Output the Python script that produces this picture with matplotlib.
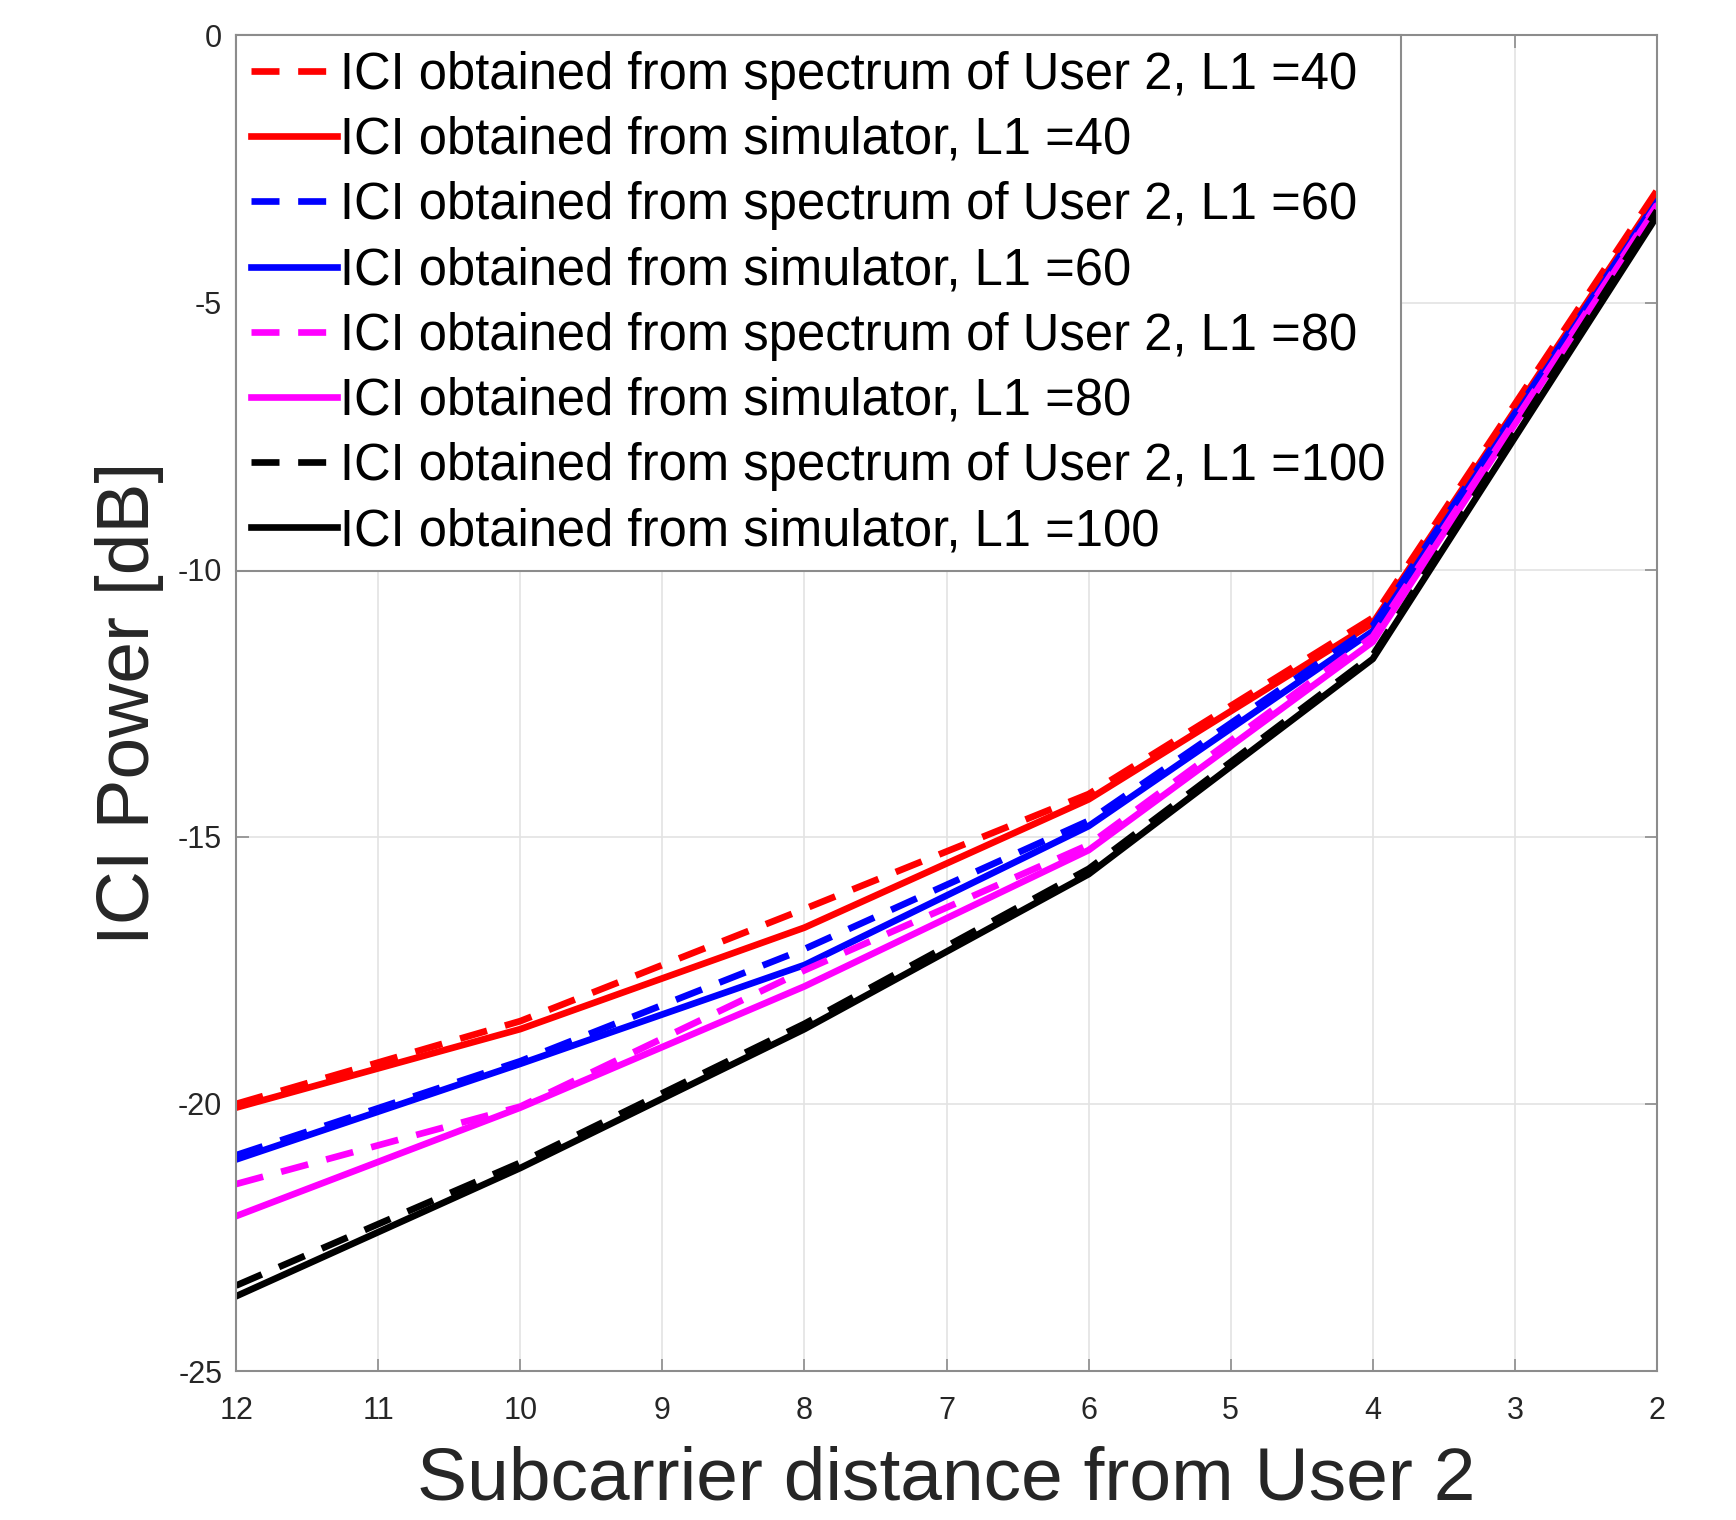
import numpy as np
import matplotlib
matplotlib.use("Agg")
import matplotlib.pyplot as plt

plt.rcParams["font.family"] = ["Liberation Sans", "DejaVu Sans"]
plt.rcParams["axes.unicode_minus"] = False

# -----------------------------
# Data
# -----------------------------
distance = [12, 10, 8, 6, 4, 2]

spec_40 = [-20.0, -18.45, -16.35, -14.2, -10.9, -2.9]
sim_40 = [-20.07, -18.6, -16.7, -14.3, -11.0, -3.03]
spec_60 = [-20.96, -19.2, -17.1, -14.7, -11.05, -3.1]
sim_60 = [-21.04, -19.25, -17.4, -14.8, -11.15, -3.12]
spec_80 = [-21.5, -20.05, -17.5, -15.15, -11.25, -3.17]
sim_80 = [-22.1, -20.07, -17.8, -15.25, -11.35, -3.2]
spec_100 = [-23.4, -21.1, -18.5, -15.6, -11.6, -3.28]
sim_100 = [-23.6, -21.2, -18.6, -15.7, -11.67, -3.38]

series = [
    (spec_40, "red", "--", "ICI obtained from spectrum of User 2, L1 =40"),
    (sim_40, "red", "-", "ICI obtained from simulator, L1 =40"),
    (spec_60, "blue", "--", "ICI obtained from spectrum of User 2, L1 =60"),
    (sim_60, "blue", "-", "ICI obtained from simulator, L1 =60"),
    (spec_80, "magenta", "--", "ICI obtained from spectrum of User 2, L1 =80"),
    (sim_80, "magenta", "-", "ICI obtained from simulator, L1 =80"),
    (spec_100, "black", "--", "ICI obtained from spectrum of User 2, L1 =100"),
    (sim_100, "black", "-", "ICI obtained from simulator, L1 =100"),
]

# -----------------------------
# Plot
# -----------------------------
fig = plt.figure(figsize=(17.36, 15.2), dpi=100)
ax = fig.add_axes([0.136, 0.098, 0.8185, 0.8787])

for vals, color, ls, label in series:
    if ls == "--":
        ax.plot(distance, vals, color=color, linestyle=(0, (4.2, 2.8)), lw=4.8, label=label)
    else:
        ax.plot(distance, vals, color=color, linestyle="-", lw=4.8, label=label)

ax.set_xlim(12, 2)
ax.set_ylim(-25, 0)
ax.set_xticks(range(12, 1, -1))
ax.set_yticks([-25, -20, -15, -10, -5, 0])
ax.grid(True, color="#e3e3e3", lw=1.2)
ax.set_axisbelow(True)

for s in ax.spines.values():
    s.set_color("#8c8c8c")
    s.set_linewidth(1.5)
ax.tick_params(direction="in", length=9, width=1.2, color="#8c8c8c",
               labelsize=22, labelcolor="#262626", top=True, right=True)
ax.tick_params(axis="x", pad=18)
ax.tick_params(axis="y", pad=10)

ax.set_xlabel("Subcarrier distance from User 2", fontsize=54, color="#262626", labelpad=14)
ax.set_ylabel("ICI Power [dB]", fontsize=54, color="#262626", labelpad=10)

leg = ax.legend(loc="upper left", fontsize=36.5, frameon=True, fancybox=False,
                edgecolor="#8c8c8c", framealpha=1, handlelength=1.7,
                handletextpad=0.05, labelspacing=0.32, borderpad=0.3,
                borderaxespad=0)
leg.get_frame().set_linewidth(1.5)

fig.savefig("out.png", dpi=100)
